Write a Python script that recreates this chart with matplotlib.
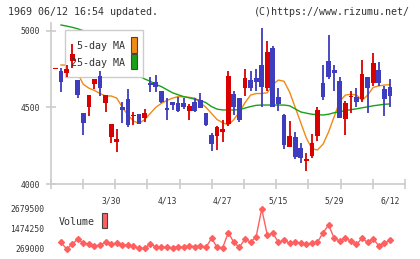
import numpy as np
import matplotlib.pyplot as plt
from matplotlib.patches import Rectangle

# daily candles, first entry is the day before the volume series starts
opens = [4748, 4737, 4722, 4804, 4678, 4461, 4504, 4650, 4704, 4526, 4309,
         4276, 4500, 4554, 4441, 4457, 4428, 4657, 4665, 4609, 4493,
         4533, 4528, 4528, 4478, 4533, 4548, 4461, 4320, 4315, 4337,
         4391, 4587, 4559, 4624, 4678, 4694, 4776, 4628, 4885, 4565,
         4450, 4239, 4304, 4233, 4152, 4185, 4315, 4661, 4802, 4743,
         4672, 4426, 4567, 4565, 4552, 4696, 4661, 4743, 4617, 4635]
highs = [4748, 4759, 4776, 4913, 4678, 4461, 4580, 4685, 4739, 4580, 4391,
         4357, 4537, 4617, 4467, 4457, 4489, 4700, 4711, 4609, 4559,
         4537, 4570, 4559, 4522, 4563, 4591, 4461, 4335, 4380, 4417,
         4737, 4609, 4559, 4748, 4737, 4748, 5015, 4933, 4900, 4624,
         4457, 4413, 4341, 4270, 4200, 4326, 4500, 4776, 4972, 4776,
         4696, 4541, 4607, 4624, 4809, 4696, 4857, 4794, 4639, 4683]
lows = [4748, 4602, 4696, 4754, 4563, 4320, 4443, 4620, 4574, 4472, 4265,
        4207, 4396, 4374, 4385, 4391, 4407, 4602, 4602, 4526, 4417,
        4483, 4467, 4489, 4417, 4467, 4493, 4378, 4215, 4222, 4276,
        4378, 4450, 4407, 4574, 4609, 4609, 4500, 4609, 4500, 4478,
        4228, 4239, 4163, 4139, 4087, 4172, 4283, 4548, 4683, 4609,
        4433, 4320, 4461, 4500, 4537, 4465, 4639, 4639, 4446, 4500]
closes = [4749, 4667, 4748, 4846, 4580, 4400, 4580, 4685, 4624, 4580, 4391,
          4293, 4483, 4385, 4450, 4391, 4460, 4646, 4635, 4533, 4483,
          4515, 4476, 4504, 4509, 4476, 4498, 4385, 4261, 4372, 4359,
          4704, 4500, 4417, 4689, 4628, 4667, 4635, 4859, 4500, 4520,
          4254, 4313, 4178, 4167, 4163, 4265, 4483, 4565, 4700, 4726,
          4433, 4526, 4570, 4537, 4717, 4628, 4791, 4661, 4554, 4576]

ma5 = [4776, 4776, 4765, 4720, 4650, 4625, 4610, 4590, 4574, 4574,
       4560, 4500, 4450, 4410, 4396, 4420, 4460, 4500, 4526, 4545,
       4560, 4570, 4568, 4565, 4560, 4530, 4500, 4460, 4420, 4400,
       4385, 4420, 4470, 4530, 4580, 4590, 4590, 4595, 4650, 4678,
       4670, 4600, 4500, 4400, 4300, 4230, 4222, 4260, 4340, 4440,
       4540, 4580, 4585, 4580, 4545, 4580, 4630, 4640, 4645, 4648]
ma25 = [5037, 5030, 5022, 5012, 5000, 4985, 4965, 4940, 4910, 4880,
        4850, 4810, 4770, 4735, 4705, 4685, 4670, 4650, 4635, 4615,
        4595, 4582, 4570, 4562, 4553, 4546, 4530, 4505, 4488, 4483,
        4483, 4483, 4485, 4495, 4505, 4513, 4515, 4515, 4515, 4515,
        4515, 4510, 4490, 4470, 4462, 4455, 4452, 4450, 4455, 4465,
        4472, 4478, 4485, 4490, 4497, 4503, 4510, 4515, 4520, 4522]

volume = [670000, 269000, 550000, 872000, 610000, 550000, 450000, 510000,
          670000, 570000, 610000, 510000, 510000, 450000, 300000, 310000,
          550000, 410000, 370000, 370000, 350000, 410000, 370000, 470000,
          410000, 470000, 370000, 912000, 370000, 350000, 1253000, 670000,
          370000, 872000, 670000, 1012000, 2679500, 1113000, 1213000, 670000,
          811000, 610000, 670000, 610000, 550000, 610000, 670000, 1253000,
          1715000, 912000, 751000, 912000, 751000, 550000, 912000, 670000,
          872000, 470000, 610000, 811000]

date_idx = [9, 19, 29, 39, 49, 59]
date_labels = ['3/30', '4/13', '4/27', '5/15', '5/29', '6/12']
vol_ticks = [269000, 1474250, 2679500]

RED = '#d90000'
BLUE = '#3d3dbd'
ORANGE = '#f08a12'
GREEN = '#18a018'
VOLC = '#ff5f5f'
GRID = '#cccccc'
TXT = '#333333'

plt.rcParams['font.family'] = ['DejaVu Sans Mono']

fig = plt.figure(figsize=(4.2, 2.59), dpi=100)
W, H = 420, 259


def box(x0, y0, x1, y1):
    return [x0 / W, 1 - y1 / H, (x1 - x0) / W, (y1 - y0) / H]


ax = fig.add_axes(box(50.7, 23, 405, 184))
xmin, xmax = -1.85, 61.7

cx = np.arange(len(opens)) - 1
for x, o, h, l, c in zip(cx, opens, highs, lows, closes):
    col = RED if c >= o else BLUE
    ax.vlines(x, l, h, color=col, lw=1.3, zorder=4)
    ax.bar(x, max(abs(c - o), 8), bottom=min(o, c), width=0.85,
           color=col, zorder=4)

mx = np.arange(len(ma5))
ax.plot(mx, ma5, color=ORANGE, lw=1.0, zorder=2)
ax.plot(mx, ma25, color=GREEN, lw=1.0, zorder=2)

ax.set_xlim(xmin, xmax)
ax.set_ylim(4000, 5050)
for s in ['top', 'right']:
    ax.spines[s].set_visible(False)
for s in ['left', 'bottom']:
    ax.spines[s].set_color(GRID)
    ax.spines[s].set_linewidth(1.2)

ax.set_yticks([4000, 4500, 5000])
ax.tick_params(axis='y', direction='inout', length=7.5, width=1.2,
               color=GRID, labelsize=5.8, labelcolor=TXT, pad=4)
ax.set_xticks(date_idx)
ax.set_xticklabels(date_labels)
ax.set_xticks(np.linspace(xmin, xmax, 12), minor=True)
ax.tick_params(axis='x', which='major', length=0, pad=9,
               labelsize=5.8, labelcolor=TXT)
ax.tick_params(axis='x', which='minor', direction='inout', length=6.5,
               width=1.2, color=GRID)

# legend box drawn by hand: lines below it, candles above it
ft = fig.transFigure
ax.add_patch(Rectangle((65 / W, 1 - 77.3 / H), 78.3 / W, 47.3 / H,
                       transform=ft, facecolor='white', edgecolor=GRID,
                       lw=1.0, zorder=3, clip_on=False))
ax.text(125 / W, 1 - 46 / H, '5-day MA', ha='right', va='center',
        fontsize=7.2, color=TXT, zorder=6, transform=ft)
ax.text(125 / W, 1 - 63 / H, '25-day MA', ha='right', va='center',
        fontsize=7.2, color=TXT, zorder=6, transform=ft)
ax.add_patch(Rectangle((131 / W, 1 - 53.3 / H), 6.3 / W, 16 / H,
                       transform=ft, facecolor=ORANGE, edgecolor='#444444',
                       lw=0.8, zorder=6, clip_on=False))
ax.add_patch(Rectangle((131 / W, 1 - 69.3 / H), 6.3 / W, 15.3 / H,
                       transform=ft, facecolor=GREEN, edgecolor='#444444',
                       lw=0.8, zorder=6, clip_on=False))

# volume panel
av = fig.add_axes(box(50.7, 209, 405, 249))
vx = np.arange(len(volume))
av.plot(vx, volume, color=VOLC, lw=1.0, marker='D', ms=3, clip_on=False)
av.set_xlim(xmin, xmax)
av.set_ylim(vol_ticks[0], vol_ticks[-1])
av.set_xticks([])
av.set_yticks(vol_ticks)
av.set_yticklabels([str(v) for v in vol_ticks])
av.tick_params(axis='y', length=0, pad=4.5, labelsize=5.8, labelcolor=TXT)
for s in av.spines.values():
    s.set_visible(False)
av.patch.set_alpha(0)

fig.text(59 / W, 1 - 222 / H, 'Volume', ha='left', va='center',
         fontsize=7.2, color=TXT)
fig.patches.append(Rectangle((101.7 / W, 1 - 228.3 / H), 5.6 / W, 15 / H,
                             transform=fig.transFigure, facecolor=VOLC,
                             edgecolor='#444444', lw=0.8))

fig.text(8 / W, 1 - 12 / H, '1969 06/12 16:54 updated.', ha='left',
         va='center', fontsize=7.2, color=TXT)
fig.text(410 / W, 1 - 12 / H, '(C)https://www.rizumu.net/', ha='right',
         va='center', fontsize=7.2, color=TXT)

fig.savefig('out.png', dpi=100)
